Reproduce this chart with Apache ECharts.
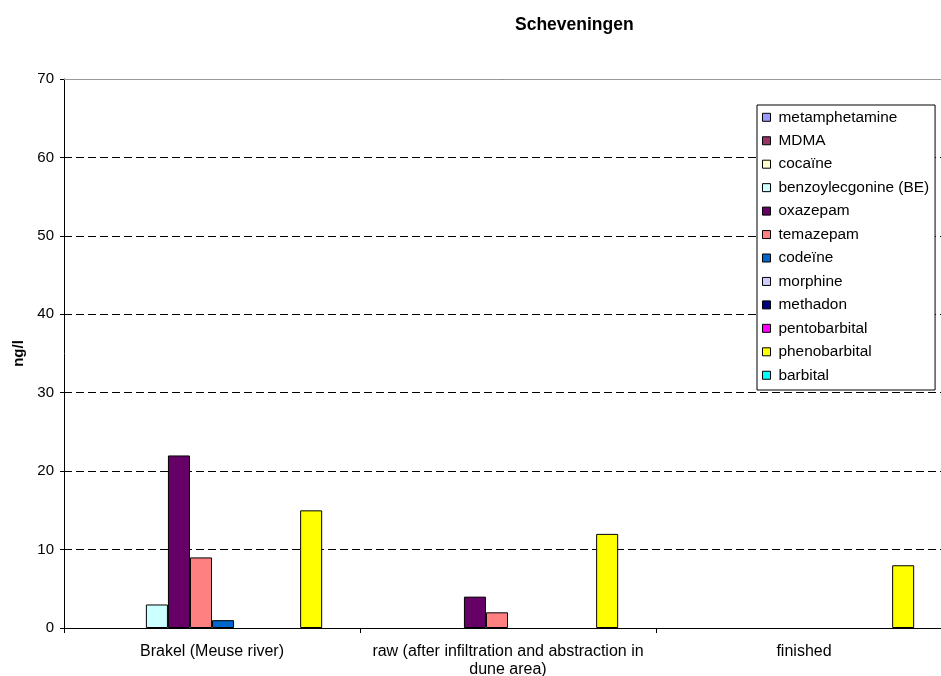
<!DOCTYPE html>
<html>
<head>
<meta charset="utf-8">
<script src="https://cdn.jsdelivr.net/npm/echarts@6/dist/echarts.min.js"></script>
<style>
  html, body { margin: 0; padding: 0; background: #fff; }
  #chart { width: 941px; height: 676px; }
</style>
</head>
<body>
<div id="chart"></div>
<script>
// Sampling locations along the treatment chain
const locations = [
  'Brakel (Meuse river)',
  'raw (after infiltration and abstraction in\ndune area)',
  'finished'
];

// Compound names (legend order)
const compounds = [
  'metamphetamine', 'MDMA', 'cocaïne', 'benzoylecgonine (BE)', 'oxazepam',
  'temazepam', 'codeïne', 'morphine', 'methadon', 'pentobarbital',
  'phenobarbital', 'barbital'
];

// Concentrations in ng/l, one value per location
const metamphetamine  = [0, 0, 0];
const mdma            = [0, 0, 0];
const cocaine         = [0, 0, 0];
const benzoylecgonine = [3, 0, 0];
const oxazepam        = [22, 4, 0];
const temazepam       = [9, 2, 0];
const codeine         = [1, 0, 0];
const morphine        = [0, 0, 0];
const methadon        = [0, 0, 0];
const pentobarbital   = [0, 0, 0];
const phenobarbital   = [15, 12, 8];
const barbital        = [0, 0, 0];

const yTicks = [0, 10, 20, 30, 40, 50, 60, 70];

const seriesValues = [
  metamphetamine, mdma, cocaine, benzoylecgonine, oxazepam, temazepam,
  codeine, morphine, methadon, pentobarbital, phenobarbital, barbital
];

const palette = [
  '#9999FF', '#993366', '#FFFFCC', '#CCFFFF', '#660066', '#FF8080',
  '#0066CC', '#CCCCFF', '#000080', '#FF00FF', '#FFFF00', '#00FFFF'
];

const font = 'Arial, "Liberation Sans", sans-serif';

const chart = echarts.init(document.getElementById('chart'), null, { renderer: 'canvas' });

chart.setOption({
  animation: false,
  backgroundColor: '#fff',
  color: palette,
  title: {
    text: 'Scheveningen',
    left: 515,
    top: 16,
    padding: 0,
    textStyle: { fontFamily: font, fontSize: 17.5, fontWeight: 'bold', color: '#000' }
  },
  legend: {
    orient: 'vertical',
    left: 757,
    top: 105,
    padding: [4.3, 6, 6.75, 5],
    backgroundColor: '#fff',
    borderColor: '#000',
    borderWidth: 1,
    itemWidth: 8,
    itemHeight: 8,
    itemGap: 7.45,
    icon: 'rect',
    itemStyle: { borderColor: '#000', borderWidth: 1 },
    textStyle: { fontFamily: font, fontSize: 15.4, color: '#000', lineHeight: 16, padding: [0, 0, 0, 3] },
    data: compounds
  },
  grid: { left: 64, right: -11, top: 79, bottom: 48, containLabel: false, outerBoundsMode: 'none' },
  xAxis: [{
    type: 'category',
    data: locations,
    axisLine: { lineStyle: { color: '#000', width: 1 } },
    axisTick: { show: true, interval: 0, length: 5, lineStyle: { color: '#000' } },
    axisLabel: { interval: 0, fontFamily: font, fontSize: 16, color: '#000', margin: 15, lineHeight: 18 },
    splitLine: { show: false }
  }, {
    type: 'category',
    data: locations,
    position: 'top',
    axisLine: { lineStyle: { color: '#999', width: 1 } },
    axisTick: { show: false },
    axisLabel: { show: false }
  }],
  yAxis: {
    type: 'value',
    min: yTicks[0],
    max: yTicks[yTicks.length - 1],
    interval: 10,
    name: 'ng/l',
    nameLocation: 'middle',
    nameRotate: 90,
    nameGap: 38,
    nameTextStyle: { fontFamily: font, fontSize: 15, fontWeight: 'bold', color: '#000' },
    axisLine: { show: true, lineStyle: { color: '#000', width: 1 } },
    axisTick: { show: true, length: 4, lineStyle: { color: '#000' } },
    axisLabel: { fontFamily: font, fontSize: 15, color: '#000', margin: 10 },
    splitLine: { show: true, lineStyle: { color: '#000', type: [8, 4], width: 1 } }
  },
  series: compounds.map((name, i) => ({
    name: name,
    type: 'bar',
    // not-detected (0) values are left out so no empty outline is drawn
    data: seriesValues[i].map(v => (v === 0 ? null : v)),
    barGap: '0%',
    barCategoryGap: '10.66%',
    itemStyle: { color: palette[i], borderColor: '#000', borderWidth: 1 }
  }))
});
</script>
</body>
</html>
